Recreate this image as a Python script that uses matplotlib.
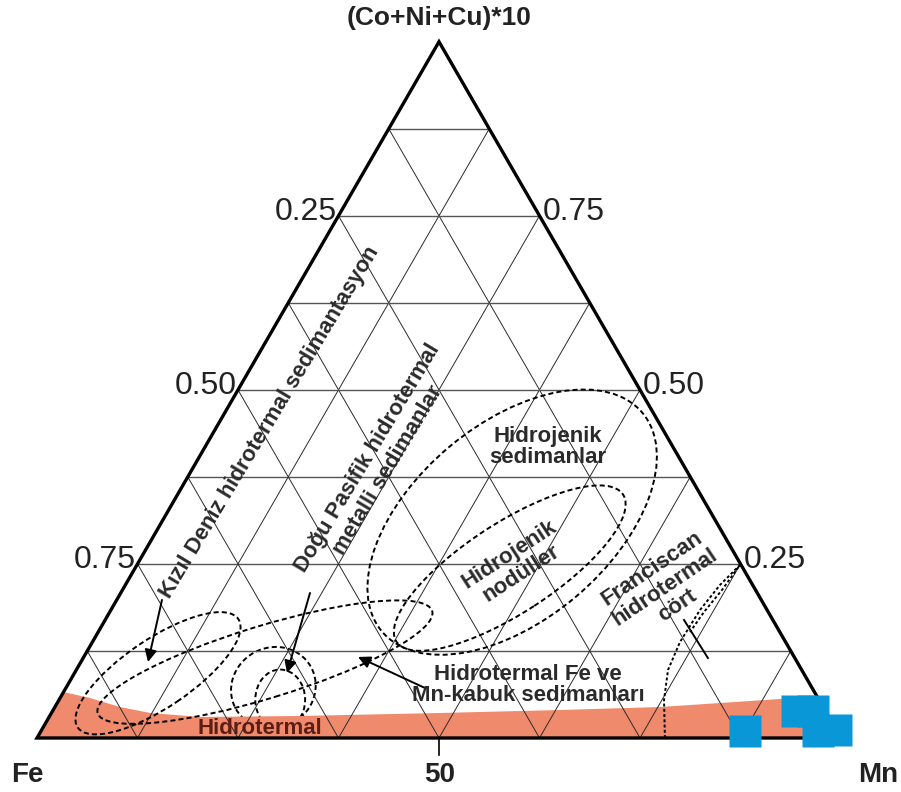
import numpy as np
import matplotlib
matplotlib.use("Agg")
import matplotlib.pyplot as plt
from matplotlib.patches import Polygon, Ellipse

plt.rcParams['font.family'] = ['Liberation Sans', 'DejaVu Sans']

# ---- data -------------------------------------------------------------
# sample compositions (fractions): Fe, Mn, (Co+Ni+Cu)*10
sample_fe = [0.115, 0.035, 0.015, 0.024, 0.001]
sample_mn = [0.875, 0.926, 0.946, 0.966, 0.988]
sample_cnc = [0.010, 0.039, 0.039, 0.010, 0.011]

grid_steps = 8
left_ticks = ["0.25", "0.50", "0.75"]    # along the Fe-apex edge
right_ticks = ["0.75", "0.50", "0.25"]   # along the Mn-apex edge
tick_levels = [0.75, 0.50, 0.25]         # apex fraction of each tick
base_tick = "50"

# upper boundary of the hydrothermal field (Mn fraction, apex fraction)
band_mn = [0.0, 0.037, 0.081, 0.123, 0.188, 0.311, 0.483, 0.630, 0.753, 0.896, 0.941]
band_c = [0.066, 0.0575, 0.0445, 0.0359, 0.0302, 0.0316, 0.0359, 0.0402, 0.0445, 0.056, 0.059]

# field outlines: centre (Mn, apex), width, height, tilt
fields = [
    ((0.436, 0.310), 0.423, 0.244, 40),   # hidrojenik sedimanlar
    ((0.466, 0.244), 0.336, 0.112, 33),   # hidrojenik nodüller
    ((0.104, 0.093), 0.241, 0.085, 34),   # Kızıl Deniz
    ((0.229, 0.109), 0.435, 0.090, 17),   # Doğu Pasifik
    ((0.258, 0.072), 0.107, 0.100, 30),
    ((0.275, 0.055), 0.062, 0.075, 0),
]

# Franciscan chert outline (Mn, apex)
fran_mn = [0.781, 0.7526, 0.736, 0.7308, 0.7327, 0.7396, 0.7501, 0.7457, 0.7391, 0.7361]
fran_c = [0.0, 0.0546, 0.0977, 0.1379, 0.1839, 0.2198, 0.2486, 0.2126, 0.181, 0.1523]

SQ3 = np.sqrt(3) / 2


def tern(mn, c):
    mn = np.asarray(mn, dtype=float)
    c = np.asarray(c, dtype=float)
    return mn + c / 2, c * SQ3


fig = plt.figure(figsize=(9.01, 7.92), dpi=100)
ax = fig.add_axes([0, 0, 1, 1])
ax.set_xlim(-0.04602, 1.07463)
ax.set_ylim(-0.06716, 0.91791)
ax.set_aspect('equal')
ax.axis('off')

corners = np.array([[0, 0], [1, 0], [0.5, SQ3]])
tri = Polygon(corners, closed=True, fill=False, lw=0, transform=ax.transData)
ax.add_patch(tri)

# hydrothermal band
bx, by = tern(band_mn, band_c)
band_poly = np.column_stack([np.r_[0, bx, 1.0], np.r_[0, by, 0]])
band = Polygon(band_poly, closed=True, facecolor='#F08A6C', edgecolor='none', zorder=1)
ax.add_patch(band)
band.set_clip_path(tri)

# grid
for k in range(1, grid_steps):
    f = k / grid_steps
    # constant apex fraction
    x0, y0 = tern(0, f)
    x1, y1 = tern(1 - f, f)
    ax.plot([x0, x1], [y0, y1], color='#555555', lw=1.0, zorder=2)
    # constant Mn fraction
    x0, y0 = tern(f, 0)
    x1, y1 = tern(f, 1 - f)
    ax.plot([x0, x1], [y0, y1], color='#2a2a2a', lw=0.7, zorder=2)
    # constant Fe fraction
    x0, y0 = tern(1 - f, 0)
    x1, y1 = tern(0, 1 - f)
    ax.plot([x0, x1], [y0, y1], color='#2a2a2a', lw=0.7, zorder=2)

# field outlines
dash = (0, (2.6, 1.6))
for i, ((mn, c), w, h, ang) in enumerate(fields):
    cx, cy = tern(mn, c)
    z = 0.9 if i >= 4 else 3
    e = Ellipse((cx, cy), w, h, angle=ang, fill=False, ec='black', lw=1.4,
                ls=dash, zorder=z)
    ax.add_patch(e)
    e.set_clip_path(tri)

fx, fy = tern(fran_mn, fran_c)
ax.plot(fx, fy, color='black', lw=1.4, ls=(0, (1.5, 1.2)), zorder=3)

# pointer line and arrows
px, py = tern([0.72, 0.777], [0.1695, 0.1149])
ax.plot(px, py, color='black', lw=1.4, zorder=3)
arrows = [((0.0563, 0.1983), (0.0835, 0.1092)),
          ((0.2354, 0.2083), (0.2642, 0.0934)),
          ((0.4467, 0.0718), (0.3411, 0.1164))]
for (m0, c0), (m1, c1) in arrows:
    s = tern(m0, c0)
    t = tern(m1, c1)
    ax.annotate('', xy=(float(t[0]), float(t[1])), xytext=(float(s[0]), float(s[1])),
                arrowprops=dict(arrowstyle='-|>', color='black', lw=1.4,
                                mutation_scale=18, shrinkA=0, shrinkB=0),
                zorder=4)

# triangle frame
ax.add_patch(Polygon(corners, closed=True, fill=False, ec='black', lw=2.4, zorder=5,
                     joinstyle='miter'))

# base tick
tx, ty = tern(0.5, 0)
ax.plot([tx, tx], [ty, ty - 0.021], color='black', lw=1.2, zorder=5)

# samples
sx, sy = tern(sample_mn, sample_cnc)
ax.plot(sx, sy, 's', color='#0A97D8', ms=23, mec='none', zorder=6)

# edge labels
for lab, lev in zip(left_ticks, tick_levels):
    x, y = tern(0, lev)
    ax.text(x - 0.002, y + 0.005, lab, ha='right', va='center', fontsize=23,
            color='#222222')
for lab, lev in zip(right_ticks, tick_levels):
    x, y = tern(1 - lev, lev)
    ax.text(x + 0.004, y + 0.005, lab, ha='left', va='center', fontsize=23,
            color='#222222')

ax.text(0.5, 0.8955, '(Co+Ni+Cu)*10', ha='center', va='center', fontsize=19,
        fontweight='bold', color='#222222')
ax.text(-0.0124, -0.0460, 'Fe', ha='center', va='center', fontsize=20,
        fontweight='bold', color='#222222')
ax.text(1.0460, -0.0460, 'Mn', ha='center', va='center', fontsize=20,
        fontweight='bold', color='#222222')
ax.text(0.5012, -0.0460, base_tick, ha='center', va='center', fontsize=20,
        fontweight='bold', color='#222222')

# field names
tk = dict(fontsize=16, fontweight='bold', color='#2a2a2a', ha='center',
          va='center', zorder=7)
ax.text(0.2898, 0.3930, 'Kızıl Deniz hidrotermal sedimantasyon', rotation=59,
        rotation_mode='anchor', **tk)
ax.text(0.4235, 0.3408, 'Doğu Pasifik hidrotermal\nmetalli sedimanlar', rotation=59,
        rotation_mode='anchor', linespacing=1.2, **tk)
ax.text(0.6356, 0.3619, 'Hidrojenik\nsedimanlar', linespacing=1.05, **tk)
ax.text(0.5945, 0.2164, 'Hidrojenik\nnodüller', rotation=33, rotation_mode='anchor',
        linespacing=1.05, **tk)
ax.text(0.7811, 0.1878, 'Franciscan\nhidrotermal\ncört', rotation=34,
        rotation_mode='anchor', linespacing=1.1, **tk)
ax.text(0.6107, 0.0659, 'Hidrotermal Fe ve\nMn-kabuk sedimanları', linespacing=1.05, **tk)
ax.text(0.2774, 0.0112, 'Hidrotermal', fontsize=16, fontweight='bold',
        color='#5C1E14', ha='center', va='center', zorder=7)

fig.savefig('out.png', dpi=100)
